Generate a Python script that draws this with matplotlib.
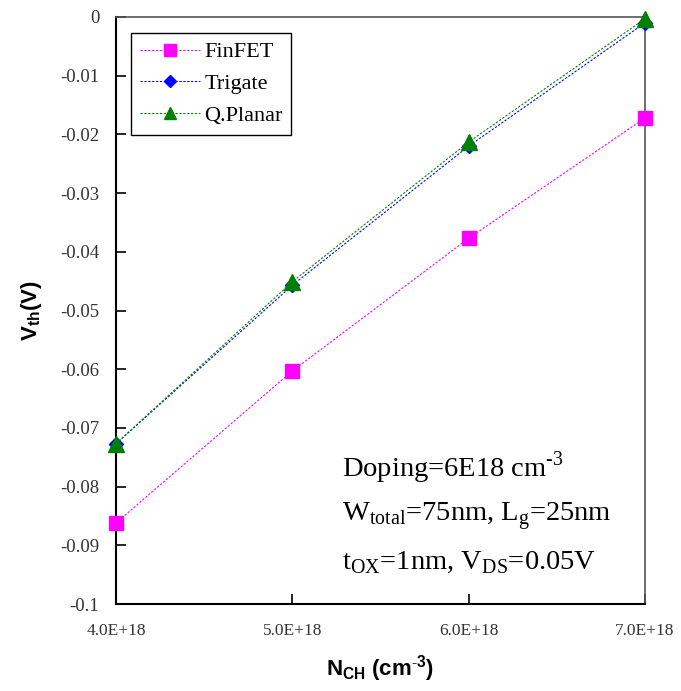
import numpy as np
import matplotlib
matplotlib.use("Agg")
import matplotlib.pyplot as plt
from matplotlib.ticker import FuncFormatter

plt.rcParams['mathtext.fontset'] = 'custom'
plt.rcParams['mathtext.rm'] = 'Liberation Serif'
plt.rcParams['mathtext.sf'] = 'Liberation Sans:bold'

# channel doping (x1e18 cm^-3) and threshold voltage shifts (V)
n_ch = [4.0, 5.0, 6.0, 7.0]
vth_finfet = [-0.0862, -0.0603, -0.0377, -0.0172]
vth_trigate = [-0.0727, -0.0457, -0.0220, -0.0010]
vth_qplanar = [-0.0727, -0.0451, -0.0213, -0.0003]

x_ticks = [4.0, 5.0, 6.0, 7.0]
y_ticks = [0, -0.01, -0.02, -0.03, -0.04, -0.05, -0.06, -0.07, -0.08, -0.09, -0.1]

serif = 'Liberation Serif'
sans = 'Liberation Sans'

fig = plt.figure(figsize=(6.81, 6.91), dpi=100)
ax = fig.add_axes([0.1703, 0.1259, 0.7768, 0.8495])

ax.plot(n_ch, vth_finfet, color='#FF00FF', ls=(0, (2, 1.5)), lw=0.8,
        marker='s', ms=10.5, mec='#FF00FF', label='FinFET', clip_on=False, zorder=3)
ax.plot(n_ch, vth_trigate, color='#0000FF', ls=(0, (2, 1.5)), lw=0.8,
        marker='D', ms=7, mec='#0000FF', label='Trigate', clip_on=False, zorder=3)
ax.plot(n_ch, vth_qplanar, color='#008000', ls=(0, (2, 1.5)), lw=0.8,
        marker='^', ms=11, mec='#008000', label='Q.Planar', clip_on=False, zorder=4)

ax.set_xlim(4.0, 7.0)
ax.set_ylim(-0.1, 0)
ax.set_xticks(x_ticks)
ax.set_yticks(y_ticks)
ax.xaxis.set_major_formatter(FuncFormatter(lambda v, p: '%.1fE+18' % v))
ax.yaxis.set_major_formatter(FuncFormatter(lambda v, p: '%g' % round(v, 3)))
ax.tick_params(direction='in', length=7, width=1.2, labelsize=13.5, pad=12)
ax.tick_params(axis='x', labelsize=12.5, pad=14)
for lab in ax.get_xticklabels() + ax.get_yticklabels():
    lab.set_fontfamily(serif)
    lab.set_color('#333333')
for side in ['left', 'bottom']:
    ax.spines[side].set_linewidth(1.5)
for side in ['top', 'right']:
    ax.spines[side].set_linewidth(1.2)
    ax.spines[side].set_color('#555555')

ax.set_xlabel(r'N$_\mathsf{CH}$ (cm$^\mathsf{\text{-}3}$)', fontsize=16, fontweight='bold',
              family=sans, labelpad=10)
ax.set_ylabel(r'V$_\mathsf{th}$(V)', fontsize=16, fontweight='bold',
              family=sans, labelpad=12)

leg = ax.legend(loc='upper left', bbox_to_anchor=(0.028, 0.973), borderaxespad=0,
                prop={'family': serif, 'size': 16}, fancybox=False, framealpha=1,
                edgecolor='black', handlelength=2.7, handletextpad=0.2,
                labelspacing=0.5, borderpad=0.4, markerscale=0.85)
leg.get_frame().set_linewidth(1.0)

ax.text(0.427, 0.233, r'Doping=6E18 cm$^{\text{-3}}$', transform=ax.transAxes,
        family=serif, fontsize=20.5, va='center')
ax.text(0.427, 0.148, r'W$_{\mathrm{total}}$=75nm, L$_{\mathrm{g}}$=25nm',
        transform=ax.transAxes, family=serif, fontsize=20.5, va='center')
ax.text(0.427, 0.070, r't$_{\mathrm{OX}}$=1nm, V$_{\mathrm{DS}}$=0.05V',
        transform=ax.transAxes, family=serif, fontsize=20.5, va='center')

fig.savefig('out.png', dpi=100)
